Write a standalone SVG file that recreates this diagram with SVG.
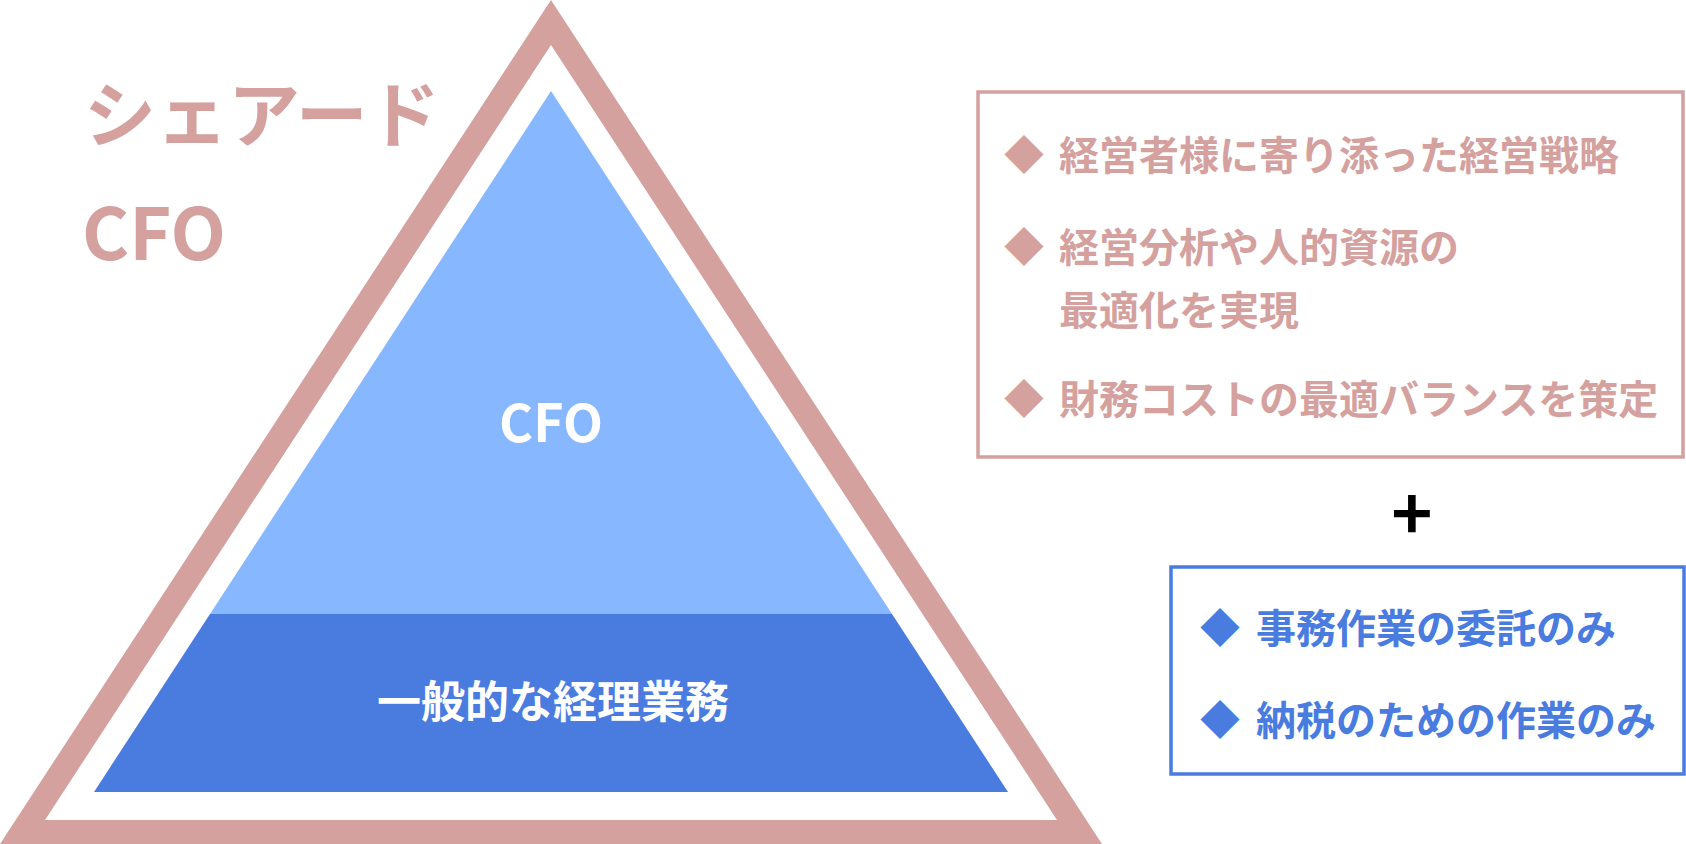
<svg xmlns="http://www.w3.org/2000/svg" width="1686" height="844" viewBox="0 0 1686 844">
<style>
text{font-family:"Noto Sans CJK JP","Noto Sans",sans-serif;font-weight:700}
.pink{fill:#D4A19E}
.blue{fill:#4A7BDF}
.white{fill:#FFFFFF}
.item{font-size:40px}
.big{font-size:72px}
</style>
<rect width="1686" height="844" fill="#FFFFFF"/>
<g id="pyramid-frame">
<path class="pink" fill-rule="evenodd" d="M551,0 L0,844 L1102,844 Z M551,45 L45,820 L1057,820 Z"/>
</g>
<g id="pyramid-top">
<path fill="#87B7FE" d="M551,91 L892,614 L210,614 Z"/>
<text class="white" x="551" y="442" font-size="52" text-anchor="middle">CFO</text>
</g>
<g id="pyramid-bottom">
<path class="blue" d="M210,614 L892,614 L1008,792 L94,792 Z"/>
<text class="white" x="553" y="718" font-size="44" text-anchor="middle">一般的な経理業務</text>
</g>
<g id="title">
<text class="pink big" x="84" y="141">シェアード</text>
<text class="pink big" x="82" y="260">CFO</text>
</g>
<g id="shared-cfo-box">
<rect x="978" y="92" width="705" height="365" fill="none" stroke="#D4A19E" stroke-width="3.5"/>
<text class="pink item" x="1024" y="170" text-anchor="middle">◆</text>
<text class="pink item" x="1059" y="170">経営者様に寄り添った経営戦略</text>
<text class="pink item" x="1024" y="262" text-anchor="middle">◆</text>
<text class="pink item" x="1059" y="262">経営分析や人的資源の</text>
<text class="pink item" x="1059" y="325">最適化を実現</text>
<text class="pink item" x="1024" y="414" text-anchor="middle">◆</text>
<text class="pink item" x="1059" y="414">財務コストの最適バランスを策定</text>
</g>
<g id="plus">
<text x="1412" y="540" font-size="70" text-anchor="middle" fill="#000000">+</text>
</g>
<g id="general-box">
<rect x="1171" y="567" width="513" height="207" fill="none" stroke="#4A7BDF" stroke-width="3.5"/>
<text class="blue item" x="1220" y="643" text-anchor="middle">◆</text>
<text class="blue item" x="1256" y="643">事務作業の委託のみ</text>
<text class="blue item" x="1220" y="735" text-anchor="middle">◆</text>
<text class="blue item" x="1256" y="735">納税のための作業のみ</text>
</g>
</svg>
